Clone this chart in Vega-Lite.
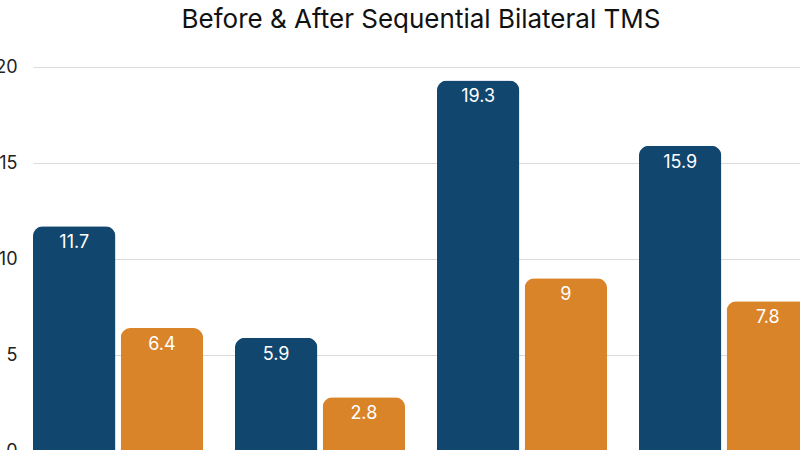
{
  "$schema": "https://vega.github.io/schema/vega-lite/v6.json",
  "autosize": "none",
  "padding": {"left": 33, "top": 67, "right": 0, "bottom": 0},
  "width": 767,
  "height": 383,
  "title": {
    "text": "Before & After Sequential Bilateral TMS",
    "fontSize": 26,
    "font": "Inter",
    "fontWeight": 400,
    "color": "#111111",
    "anchor": "middle",
    "offset": 25,
    "dx": 4.5
  },
  "config": {"view": {"stroke": null}, "font": "Inter"},
  "data": {
    "values": [
      {"group": "1", "phase": "Before", "value": 11.7},
      {"group": "1", "phase": "After", "value": 6.4},
      {"group": "2", "phase": "Before", "value": 5.9},
      {"group": "2", "phase": "After", "value": 2.8},
      {"group": "3", "phase": "Before", "value": 19.3},
      {"group": "3", "phase": "After", "value": 9},
      {"group": "4", "phase": "Before", "value": 15.9},
      {"group": "4", "phase": "After", "value": 7.8}
    ]
  },
  "encoding": {
    "x": {
      "field": "group",
      "type": "nominal",
      "sort": null,
      "scale": {"range": [0, 776], "paddingInner": 0.158, "paddingOuter": 0},
      "axis": null
    },
    "xOffset": {
      "field": "phase",
      "type": "nominal",
      "sort": ["Before", "After"],
      "scale": {"paddingInner": 0.06}
    },
    "y": {
      "field": "value",
      "type": "quantitative",
      "scale": {"domain": [0, 20], "range": [384, 0]},
      "axis": {
        "title": null,
        "values": [0, 5, 10, 15, 20],
        "domain": false,
        "ticks": false,
        "labelFontSize": 18,
        "labelColor": "#222222",
        "labelPadding": 16,
        "gridColor": "#dcdcdc",
        "gridWidth": 1
      }
    }
  },
  "layer": [
    {
      "mark": {"type": "bar", "cornerRadiusTopLeft": 10, "cornerRadiusTopRight": 10},
      "encoding": {
        "color": {
          "field": "phase",
          "type": "nominal",
          "scale": {"domain": ["Before", "After"], "range": ["#11466E", "#DA8429"]},
          "legend": null
        }
      }
    },
    {
      "mark": {"type": "text", "baseline": "alphabetic", "dy": 22, "fontSize": 18, "color": "#ffffff"},
      "encoding": {"text": {"field": "value", "type": "nominal"}}
    }
  ]
}
